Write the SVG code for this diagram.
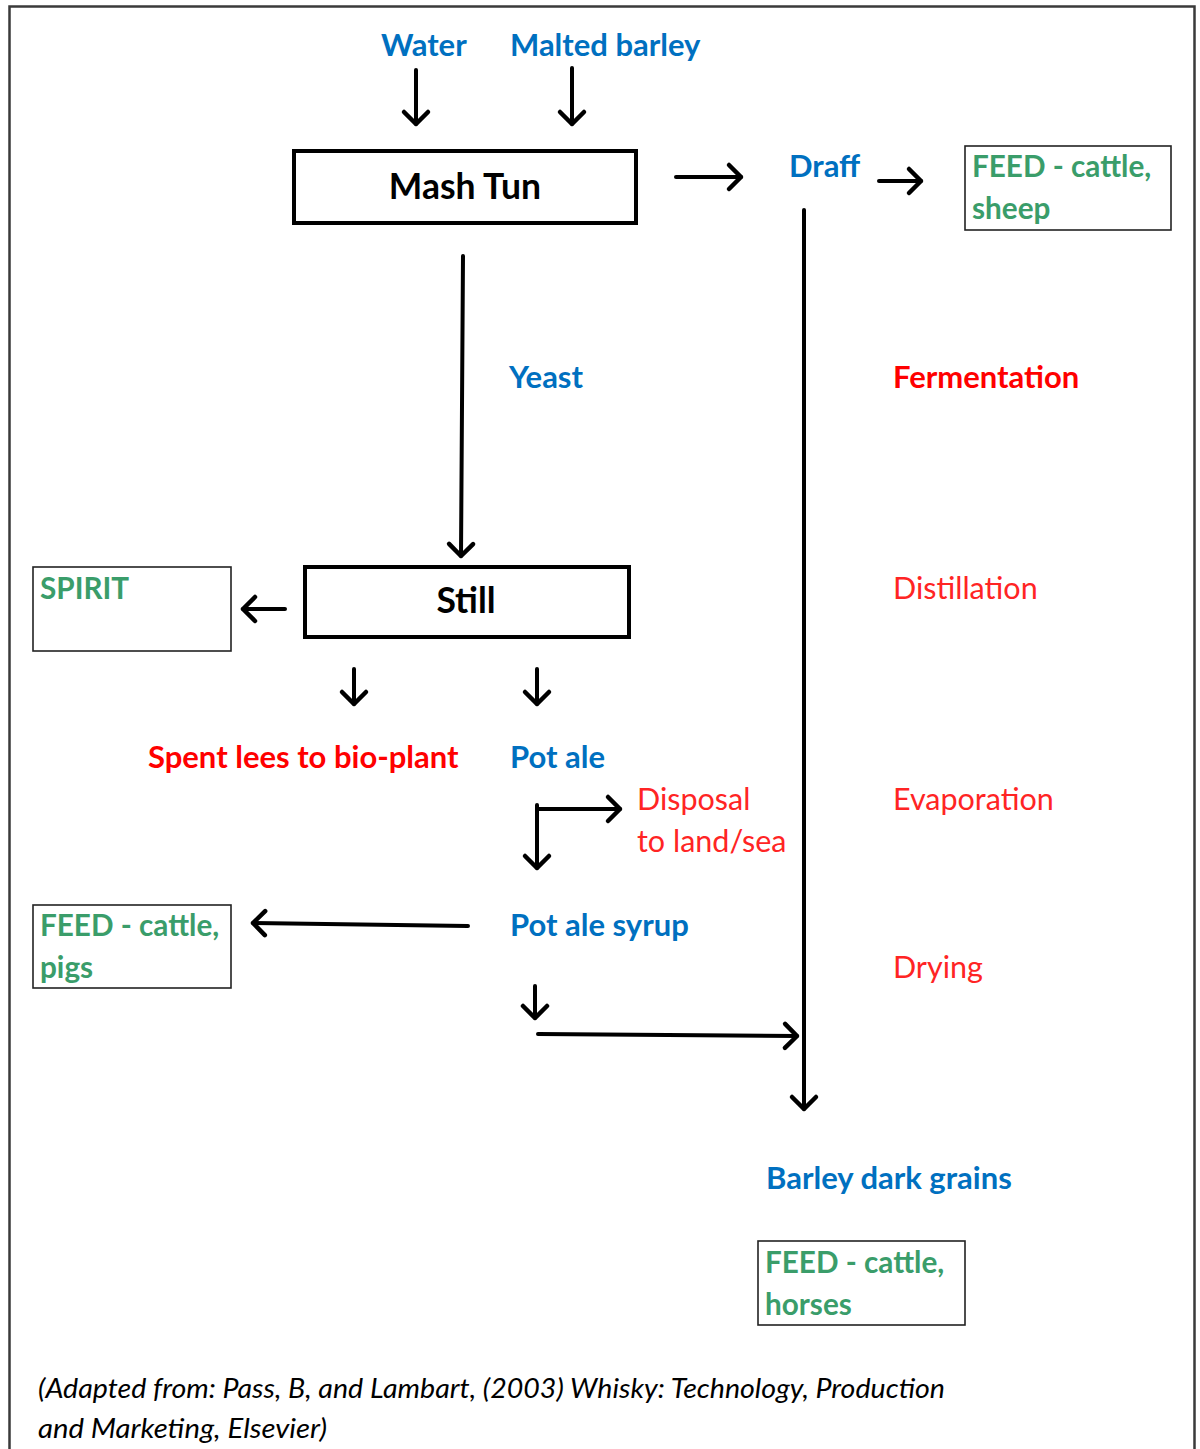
<svg xmlns="http://www.w3.org/2000/svg" width="1200" height="1449" viewBox="0 0 1200 1449">
  <defs>
    <marker id="chev" viewBox="0 0 16 28" refX="14" refY="14" markerWidth="16" markerHeight="28" markerUnits="userSpaceOnUse" orient="auto" overflow="visible">
      <path d="M2,2 L14,14 L2,26" fill="none" stroke="#000" stroke-width="4.5" stroke-linecap="round" stroke-linejoin="round"/>
    </marker>
  </defs>
  <style>
    text { font-family: Lato, "Open Sans", "Liberation Sans", sans-serif; }
    .blue { fill: #0070C0; font-weight: bold; font-size: 31px; }
    .green { fill: #3a9d6a; font-weight: bold; font-size: 29.7px; }
    .redb { fill: #FF0000; font-weight: bold; font-size: 31px; }
    .red { fill: #ff2424; font-size: 30.5px; }
    .black { fill: #000; font-weight: bold; font-size: 35.5px; }
    .cite { fill: #000; font-style: italic; font-size: 27px; }
    .proc { fill: #fff; stroke: #000; stroke-width: 4; }
    .out { fill: #fff; stroke: #222; stroke-width: 1.6; }
    .conn { fill: none; stroke: #000; stroke-width: 4; stroke-linecap: round; }
    .arrow { marker-end: url(#chev); }
  </style>
  <rect x="0" y="0" width="1200" height="1449" fill="#fff"/>
  <path d="M9.5,1449 V6.5 H1194.5 V1449" fill="none" stroke="#3a3a3a" stroke-width="2.5"/>

  <g id="connectors">
    <line class="conn arrow" x1="416" y1="70" x2="416" y2="124"/>
    <line class="conn arrow" x1="572" y1="68" x2="572" y2="124"/>
    <line class="conn arrow" x1="676" y1="177" x2="741" y2="177"/>
    <line class="conn arrow" x1="879" y1="181" x2="921" y2="181"/>
    <line class="conn arrow" x1="804" y1="210" x2="804" y2="1109"/>
    <line class="conn arrow" x1="463" y1="256" x2="461" y2="556"/>
    <line class="conn arrow" x1="285" y1="609" x2="243" y2="609"/>
    <line class="conn arrow" x1="354" y1="669" x2="354" y2="704"/>
    <line class="conn arrow" x1="537" y1="669" x2="537" y2="704"/>
    <line class="conn arrow" x1="537" y1="805" x2="537" y2="868"/>
    <line class="conn arrow" x1="539" y1="809" x2="620" y2="809"/>
    <line class="conn arrow" x1="468" y1="926" x2="253" y2="923"/>
    <line class="conn arrow" x1="535" y1="986" x2="535" y2="1018"/>
    <line class="conn arrow" x1="538" y1="1034" x2="797" y2="1036"/>
  </g>

  <g id="water"><text class="blue" x="381" y="56">Water</text></g>
  <g id="malted-barley"><text class="blue" x="510" y="56">Malted barley</text></g>
  <g id="mash-tun">
    <rect class="proc" x="294" y="151" width="342" height="72"/>
    <text class="black" x="465" y="199" text-anchor="middle">Mash Tun</text>
  </g>
  <g id="draff"><text class="blue" x="789" y="177">Draff</text></g>
  <g id="feed-sheep">
    <rect class="out" x="965" y="146" width="206" height="84"/>
    <text class="green" x="972" y="177">FEED - cattle,</text>
    <text class="green" x="972" y="219">sheep</text>
  </g>
  <g id="yeast"><text class="blue" x="509" y="388">Yeast</text></g>
  <g id="fermentation"><text class="redb" x="893" y="388">Fermentation</text></g>
  <g id="still">
    <rect class="proc" x="305" y="567" width="324" height="70"/>
    <text class="black" x="466" y="613" text-anchor="middle">Still</text>
  </g>
  <g id="spirit">
    <rect class="out" x="33" y="567" width="198" height="84"/>
    <text class="green" x="40" y="599">SPIRIT</text>
  </g>
  <g id="distillation"><text class="red" x="893" y="599">Distillation</text></g>
  <g id="spent-lees"><text class="redb" x="148" y="768">Spent lees to bio-plant</text></g>
  <g id="pot-ale"><text class="blue" x="510" y="768">Pot ale</text></g>
  <g id="disposal">
    <text class="red" x="637" y="810">Disposal</text>
    <text class="red" x="637" y="852">to land/sea</text>
  </g>
  <g id="evaporation"><text class="red" x="893" y="810">Evaporation</text></g>
  <g id="pot-ale-syrup"><text class="blue" x="510" y="936">Pot ale syrup</text></g>
  <g id="feed-pigs">
    <rect class="out" x="33" y="905" width="198" height="83"/>
    <text class="green" x="40" y="936">FEED - cattle,</text>
    <text class="green" x="40" y="978">pigs</text>
  </g>
  <g id="drying"><text class="red" x="893" y="978">Drying</text></g>
  <g id="barley-dark-grains"><text class="blue" x="766" y="1189">Barley dark grains</text></g>
  <g id="feed-horses">
    <rect class="out" x="758" y="1241" width="207" height="84"/>
    <text class="green" x="765" y="1273">FEED - cattle,</text>
    <text class="green" x="765" y="1315">horses</text>
  </g>
  <g id="citation">
    <text class="cite" x="38" y="1398" textLength="907" lengthAdjust="spacingAndGlyphs">(Adapted from: Pass, B, and Lambart, (2003) Whisky: Technology, Production</text>
    <text class="cite" x="38" y="1438" textLength="289" lengthAdjust="spacingAndGlyphs">and Marketing, Elsevier)</text>
  </g>
</svg>
